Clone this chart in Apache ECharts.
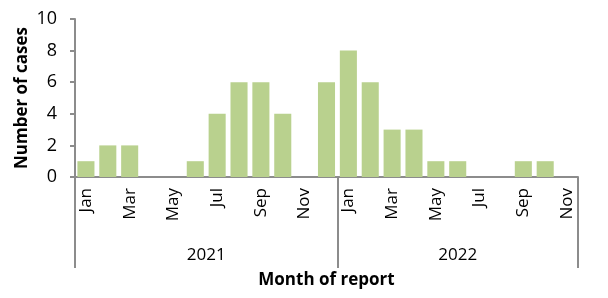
<!DOCTYPE html>
<html><head><meta charset="utf-8">
<script src="https://cdn.jsdelivr.net/npm/echarts@6/dist/echarts.min.js"></script>
<style>html,body{margin:0;padding:0;background:#fff}#c{width:608px;height:298px}</style>
</head><body><div id="c"></div>
<script>
const months = ['Jan','Feb','Mar','Apr','May','Jun','Jul','Aug','Sep','Oct','Nov','Dec',
                'Jan','Feb','Mar','Apr','May','Jun','Jul','Aug','Sep','Oct','Nov'];
const cases = [1,2,2,0,0,1,4,6,6,4,0,6, 8,6,3,3,1,1,0,0,1,1,0];
const years = ['2021','2022'];
const yearBounds = [0,12,23];
const yearCenters = [6,17.5];
const yTicks = [0,2,4,6,8,10];

const axisGrey = '#8c8c8c';
const font = 'Open Sans';
const chart = echarts.init(document.getElementById('c'));
chart.setOption({
  animation:false,
  grid:{left:75,right:30,top:19,bottom:121,containLabel:false},
  xAxis:[{
    type:'category', data:months, position:'bottom',
    axisLine:{lineStyle:{color:axisGrey,width:2}},
    axisTick:{interval:0,length:51,lineStyle:{color:axisGrey,width:2}},
    axisLabel:{interval:1,rotate:90,margin:11,fontFamily:font,fontSize:17,color:'#000'},
    name:'Month of report', nameLocation:'middle', nameGap:95, nameMoveOverlap:false,
    nameTextStyle:{fontFamily:font,fontWeight:'bold',fontSize:17,color:'#000'}
  },{
    type:'value', min:0, max:23, position:'bottom',
    axisLine:{show:false}, splitLine:{show:false},
    axisTick:{show:true,length:91,customValues:yearBounds,lineStyle:{color:axisGrey,width:2}},
    axisLabel:{customValues:yearCenters,margin:70,fontFamily:font,fontSize:17,color:'#000',
      formatter:(v)=> v<12?years[0]:years[1]}
  }],
  yAxis:{
    type:'value', min:0, max:10, interval:2,
    axisLine:{show:true,lineStyle:{color:axisGrey,width:2}},
    axisTick:{show:true,length:5,lineStyle:{color:axisGrey,width:2}},
    splitLine:{show:false},
    axisLabel:{fontFamily:font,fontSize:18,color:'#000',margin:18,customValues:yTicks},
    name:'Number of cases', nameLocation:'middle', nameGap:44, nameMoveOverlap:false,
    nameTextStyle:{fontFamily:font,fontWeight:'bold',fontSize:17,color:'#000'}
  },
  series:[{
    type:'bar', data:cases, xAxisIndex:0, barCategoryGap:'22%',
    itemStyle:{color:'#b9d18e'}
  }]
});
</script></body></html>
